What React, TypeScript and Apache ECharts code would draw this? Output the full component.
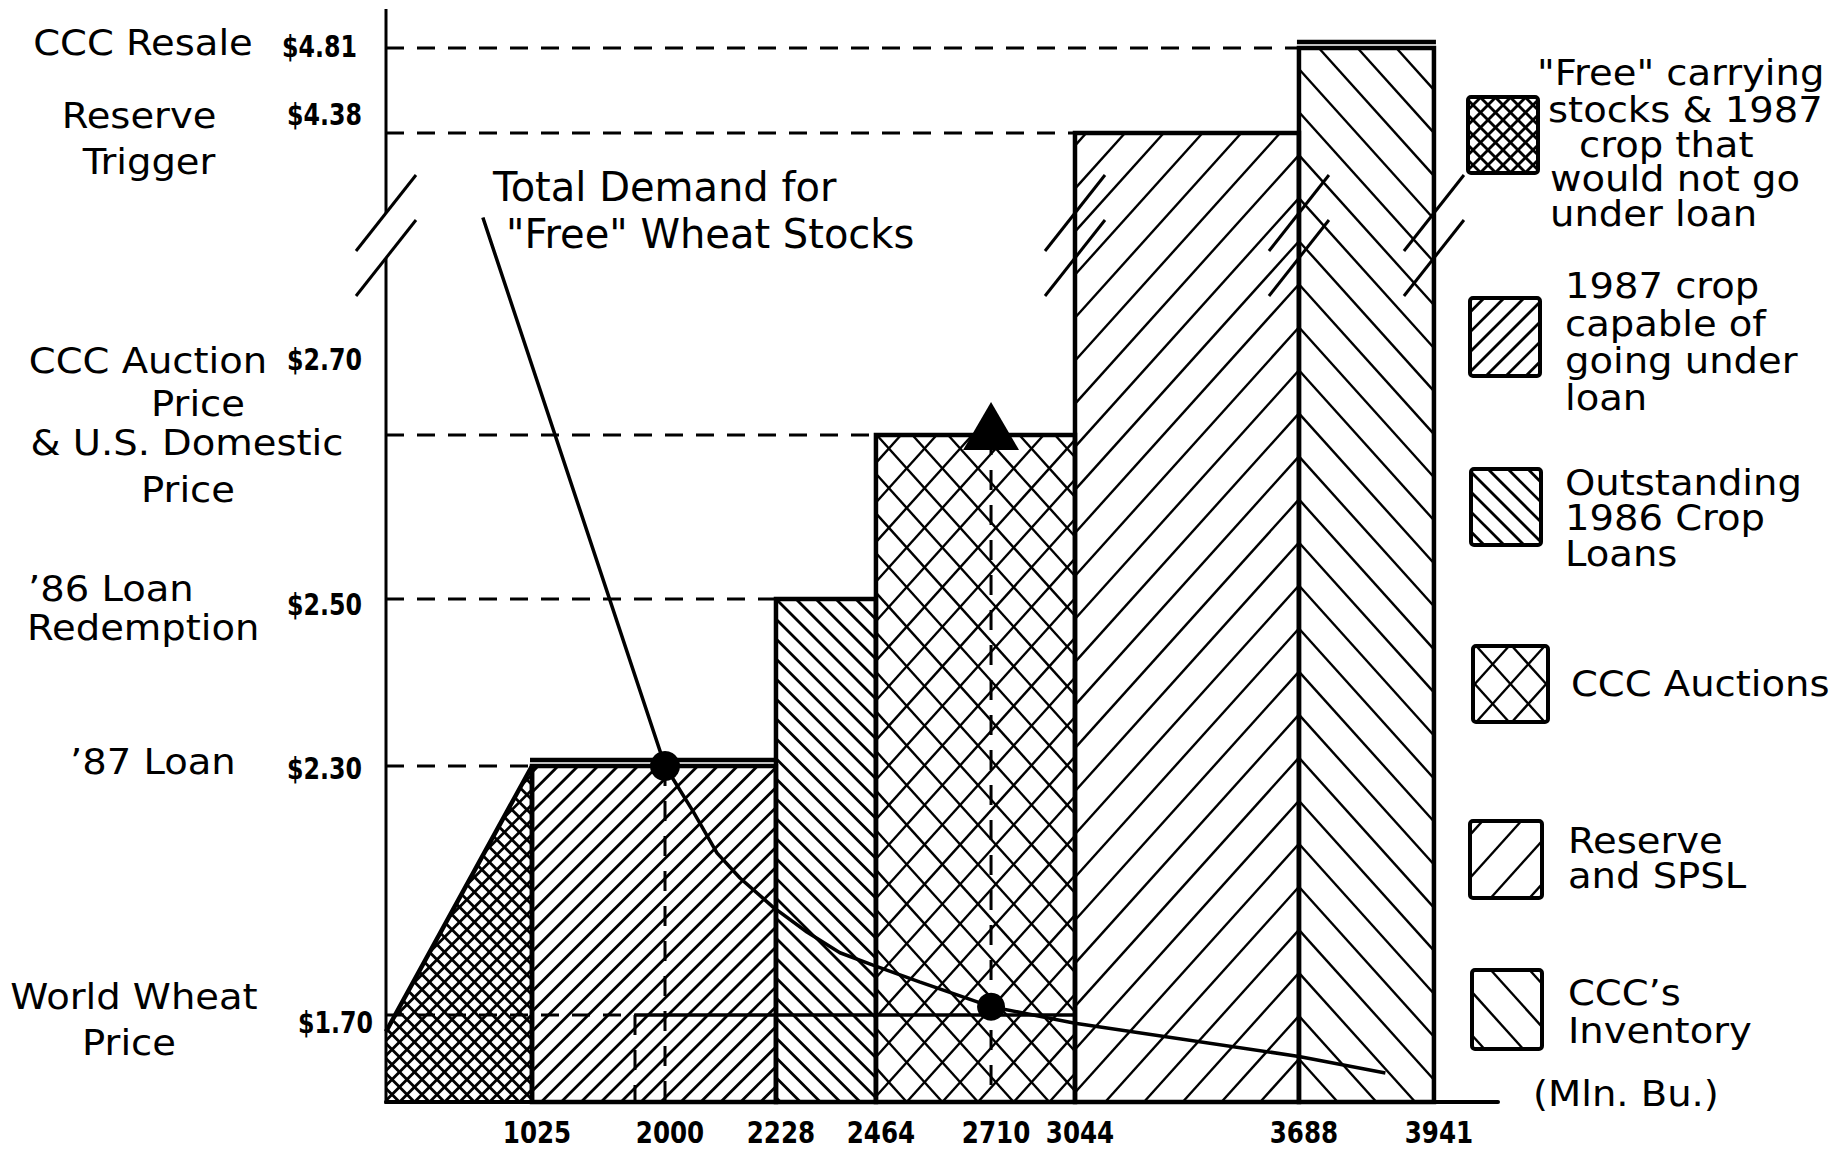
import React, { useEffect, useRef } from 'react';
import * as echarts from 'echarts';

// ---------------- data ----------------
const qtyTicks = [1025, 2000, 2228, 2464, 2710, 3044, 3688, 3941]; // Mln. Bu.
const qtyTickLabels = ['1025', '2000', '2228', '2464', '2710', '3044', '3688', '3941'];

const priceLevels = [4.81, 4.38, 2.7, 2.5, 2.3, 1.7];
const priceLabels = ['$4.81', '$4.38', '$2.70', '$2.50', '$2.30', '$1.70'];
const priceNames = [
  ['CCC Resale'],
  ['Reserve', 'Trigger'],
  ['CCC Auction', 'Price', '& U.S. Domestic', 'Price'],
  ['’86 Loan', 'Redemption'],
  ['’87 Loan'],
  ['World Wheat', 'Price'],
];
const priceLineEndQty = [3688, 3044, 2464, 2228, 1025, 1780];

const blockFromQty = [1025, 2228, 2464, 3044, 3688];
const blockToQty = [2228, 2464, 3044, 3688, 3941];
const blockPrice = [2.3, 2.5, 2.7, 4.38, 4.81];
const blockKind = ['capable', 'outstanding86', 'auctions', 'reserve', 'inventory'];

const freeStockQty = [0, 1025];
const freeStockPrice = [1.66, 2.3];

const worldLineQty = [1780, 3044];
const worldLinePrice = 1.7;

const dropQty = [1780, 2000, 2710];
const dropPrice = [1.7, 2.3, 2.7];

const demandQty = [680, 2000, 2016, 2058, 2107, 2154, 2222, 2301, 2379, 2457, 2557, 2710, 3044, 3688, 3850];
const demandPrice = [3.91, 2.3, 2.27, 2.19, 2.09, 2.03, 1.96, 1.9, 1.85, 1.82, 1.78, 1.72, 1.68, 1.6, 1.56];

const dotQty = [2000, 2710];
const dotPrice = [2.3, 1.72];
const auctionMarkQty = [2710];
const auctionMarkPrice = [2.7];

const breakEdgeQty = [0, 3044, 3688, 3941];

const legendKinds = ['free', 'capable', 'outstanding86', 'auctions', 'reserve', 'inventory'];
const legendTexts = [
  ['"Free" carrying', 'stocks & 1987', 'crop that', 'would not go', 'under loan'],
  ['1987 crop', 'capable of', 'going under', 'loan'],
  ['Outstanding', '1986 Crop', 'Loans'],
  ['CCC Auctions'],
  ['Reserve', 'and SPSL'],
  ['CCC’s', 'Inventory'],
];
const demandLabel = ['Total Demand for', '"Free" Wheat Stocks'];
const unitsLabel = '(Mln. Bu.)';

// ---------------- layout (schematic, non-proportional axes of the drawing) ----------------
const GRID = { left: 386, top: 9, width: 1112, height: 1093 };
const Q_KNOTS = [0, 1025, 2000, 2228, 2464, 2710, 3044, 3688, 3941, 4060];
const Q_POS = [0, 0.1313, 0.2509, 0.3507, 0.4406, 0.5441, 0.6196, 0.821, 0.9424, 1];
const P_KNOTS = [1.49, 1.7, 2.3, 2.5, 2.7, 4.38, 4.81, 5.0];
const P_POS = [0, 0.0796, 0.3074, 0.4602, 0.6102, 0.8865, 0.9643, 1];
const BREAK_POS = [0.7722, 0.8134];

const PRICE_LABEL_RIGHT = [357, 362, 362, 362, 362, 373];
const PRICE_LABEL_DY = [-2, -19, -76, 5, 2, 7];
const NAME_LAYOUT: [number, number, string][][] = [
  [[143, -5, 'center']],
  [[139, -17, 'center'], [149, 29, 'center']],
  [[148, -74, 'center'], [198, -31, 'center'], [187, 8, 'center'], [188, 55, 'center']],
  [[28, -10, 'left'], [27, 29, 'left']],
  [[70, -4, 'left']],
  [[134, -18, 'center'], [129, 28, 'center']],
];
const BLOCK_DOUBLE_TOP = [true, false, false, false, true];
const DOT_SIZE = [30, 28];

const LEGEND_BOX = [
  [1468, 97, 70, 76],
  [1470, 298, 70, 78],
  [1471, 469, 70, 76],
  [1473, 646, 75, 76],
  [1470, 821, 72, 77],
  [1472, 970, 70, 79],
];
const LEGEND_TEXT_POS = [
  [[1537, 73], [1548, 110], [1579, 145], [1550, 179], [1550, 214]],
  [[1565, 286], [1565, 324], [1565, 361], [1565, 398]],
  [[1565, 483], [1565, 518], [1565, 554]],
  [[1571, 684]],
  [[1568, 841], [1568, 876]],
  [[1568, 993], [1568, 1031]],
];
const UNITS_POS = [1533, 1094];
const DEMAND_LABEL_POS = [[493, 187], [506, 234]];

type Pat = { angles: number[]; s: number; lw: number };
const PATTERN: Record<string, Pat> = {
  free: { angles: [45, -45], s: 10.6, lw: 2.8 },
  capable: { angles: [45], s: 14.1, lw: 2.8 },
  outstanding86: { angles: [-45], s: 14.1, lw: 2.8 },
  auctions: { angles: [48, -48], s: 26.5, lw: 2.4 },
  reserve: { angles: [48], s: 28.8, lw: 2.4 },
  inventory: { angles: [-48], s: 28.8, lw: 2.4 },
};

const BLACK = '#000';
const FONT = "'DejaVu Sans'";

// ---------------- helpers ----------------
function interp(v: number, xs: number[], ys: number[]) {
  for (let i = 1; i < xs.length; i++) {
    if (v <= xs[i] || i === xs.length - 1) {
      return ys[i - 1] + ((v - xs[i - 1]) * (ys[i] - ys[i - 1])) / (xs[i] - xs[i - 1]);
    }
  }
  return ys[ys.length - 1];
}
const sx = (q: number) => interp(q, Q_KNOTS, Q_POS);
const sy = (p: number) => interp(p, P_KNOTS, P_POS);

function hatch(poly: number[][], pat: Pat, anchor: number[], phase = 0) {
  const segs: number[][] = [];
  for (const deg of pat.angles) {
    const t = (deg * Math.PI) / 180;
    const d = [Math.cos(t), -Math.sin(t)];
    const n = [Math.sin(t), Math.cos(t)];
    const a0 = n[0] * anchor[0] + n[1] * anchor[1];
    let mn = Infinity;
    let mx = -Infinity;
    for (const v of poly) {
      const c = n[0] * v[0] + n[1] * v[1] - a0;
      mn = Math.min(mn, c);
      mx = Math.max(mx, c);
    }
    for (let k = Math.ceil(mn / pat.s - phase); k <= Math.floor(mx / pat.s - phase); k++) {
      const c = a0 + (k + phase) * pat.s;
      const pts: number[][] = [];
      for (let i = 0; i < poly.length; i++) {
        const A = poly[i];
        const B = poly[(i + 1) % poly.length];
        const fa = n[0] * A[0] + n[1] * A[1] - c;
        const fb = n[0] * B[0] + n[1] * B[1] - c;
        if ((fa <= 0 && fb > 0) || (fa > 0 && fb <= 0)) {
          const r = fa / (fa - fb);
          pts.push([A[0] + (B[0] - A[0]) * r, A[1] + (B[1] - A[1]) * r]);
        }
      }
      if (pts.length >= 2) {
        pts.sort((p, q) => d[0] * p[0] + d[1] * p[1] - (d[0] * q[0] + d[1] * q[1]));
        const p1 = pts[0];
        const p2 = pts[pts.length - 1];
        if (Math.hypot(p2[0] - p1[0], p2[1] - p1[1]) > 0.8) segs.push([p1[0], p1[1], p2[0], p2[1]]);
      }
    }
  }
  return segs;
}

function hatchEls(poly: number[][], kind: string, anchor: number[], phase = 0) {
  const pat = PATTERN[kind];
  return hatch(poly, pat, anchor, phase).map(([x1, y1, x2, y2]) => ({
    type: 'line',
    silent: true,
    shape: { x1, y1, x2, y2 },
    style: { stroke: BLACK, lineWidth: pat.lw },
  }));
}

function textEl(text: string, x: number, y: number, align: string, font: string, scaleX: number) {
  return {
    type: 'text',
    x,
    y,
    scaleX,
    silent: true,
    style: {
      text,
      x: 0,
      y: 0,
      fill: BLACK,
      font,
      align,
      textAlign: align,
      verticalAlign: 'middle',
      textVerticalAlign: 'middle',
    },
  };
}

const LABEL_FONT = `normal 35px ${FONT}`;
const TICK_FONT = `bold 30px ${FONT}`;
const DEMAND_FONT = `normal 40px ${FONT}`;

function buildOption() {
  const graphicEls: any[] = [];
  LEGEND_BOX.forEach(([x, y, w, h], i) => {
    const poly = [[x, y], [x + w, y], [x + w, y + h], [x, y + h]];
    const pat = PATTERN[legendKinds[i]];
    const phase = pat.angles.length === 1 && pat.s > 20 ? 0.5 : 0;
    graphicEls.push(...hatchEls(poly, legendKinds[i], [x + w / 2, y + h / 2], phase));
    graphicEls.push({
      type: 'rect',
      silent: true,
      shape: { x, y, width: w, height: h, r: 3 },
      style: { fill: 'none', stroke: BLACK, lineWidth: 4 },
    });
    legendTexts[i].forEach((t, j) => {
      const [tx, ty] = LEGEND_TEXT_POS[i][j];
      graphicEls.push(textEl(t, tx, ty, 'left', LABEL_FONT, 1.1));
    });
  });
  graphicEls.push(textEl(unitsLabel, UNITS_POS[0], UNITS_POS[1], 'left', LABEL_FONT, 1.1));
  demandLabel.forEach((t, j) => {
    graphicEls.push(textEl(t, DEMAND_LABEL_POS[j][0], DEMAND_LABEL_POS[j][1], 'left', DEMAND_FONT, 1.0));
  });

  const series: any[] = [
    // free carrying stocks wedge (supply up to 1025)
    {
      type: 'custom',
      silent: true,
      clip: false,
      z: 1,
      data: [[sx(freeStockQty[0]), sx(freeStockQty[1]), sy(freeStockPrice[0]), sy(freeStockPrice[1])]],
      renderItem: (params: any, api: any) => {
        const x0 = api.value(0), x1 = api.value(1), y0 = api.value(2), y1 = api.value(3);
        const b0 = api.coord([x0, 0]);
        const t0 = api.coord([x0, y0]);
        const t1 = api.coord([x1, y1]);
        const b1 = api.coord([x1, 0]);
        const poly = [b0, t0, t1, b1];
        const anchor = api.coord([sx(blockFromQty[4]), 0]);
        const children: any[] = hatchEls(poly, 'free', anchor);
        children.push({
          type: 'polyline',
          shape: { points: [t0, t1, b1] },
          style: { fill: 'none', stroke: BLACK, lineWidth: 4.5 },
        });
        return { type: 'group', children };
      },
    },
    // stock blocks
    {
      type: 'custom',
      silent: true,
      clip: false,
      z: 1,
      data: blockFromQty.map((q, i) => [sx(q), sx(blockToQty[i]), sy(blockPrice[i]), i]),
      renderItem: (params: any, api: any) => {
        const i = params.dataIndex;
        const tl = api.coord([api.value(0), api.value(2)]);
        const br = api.coord([api.value(1), 0]);
        const poly = [[tl[0], br[1]], tl, [br[0], tl[1]], br];
        const anchor = api.coord([sx(blockFromQty[4]), 0]);
        const children: any[] = hatchEls(poly, blockKind[i], anchor);
        children.push({
          type: 'polygon',
          shape: { points: poly },
          style: { fill: 'none', stroke: BLACK, lineWidth: 4.5 },
        });
        if (BLOCK_DOUBLE_TOP[i]) {
          children.push({
            type: 'line',
            shape: { x1: tl[0] - 2, y1: tl[1] - 6, x2: br[0] + 2, y2: tl[1] - 6 },
            style: { stroke: BLACK, lineWidth: 4.5 },
          });
        }
        return { type: 'group', children };
      },
    },
    // dashed price reference lines
    {
      type: 'custom',
      silent: true,
      clip: false,
      z: 3,
      data: priceLevels.map((p, i) => [sx(0), sx(priceLineEndQty[i]), sy(p)]),
      renderItem: (params: any, api: any) => {
        const a = api.coord([api.value(0), api.value(2)]);
        const b = api.coord([api.value(1), api.value(2)]);
        return {
          type: 'line',
          shape: { x1: a[0], y1: a[1], x2: b[0], y2: b[1] },
          style: { stroke: BLACK, lineWidth: 3, lineDash: [18, 13] },
        };
      },
    },
    // world price line
    {
      type: 'custom',
      silent: true,
      clip: false,
      z: 3,
      data: [[sx(worldLineQty[0]), sx(worldLineQty[1]), sy(worldLinePrice)]],
      renderItem: (params: any, api: any) => {
        const a = api.coord([api.value(0), api.value(2)]);
        const b = api.coord([api.value(1), api.value(2)]);
        return {
          type: 'line',
          shape: { x1: a[0], y1: a[1], x2: b[0], y2: b[1] },
          style: { stroke: BLACK, lineWidth: 3.5 },
        };
      },
    },
    // vertical dashed drop lines
    {
      type: 'custom',
      silent: true,
      clip: false,
      z: 3,
      data: dropQty.map((q, i) => [sx(q), sy(dropPrice[i])]),
      renderItem: (params: any, api: any) => {
        const a = api.coord([api.value(0), api.value(1)]);
        const b = api.coord([api.value(0), 0]);
        return {
          type: 'line',
          shape: { x1: a[0], y1: a[1], x2: b[0], y2: b[1] },
          style: { stroke: BLACK, lineWidth: 3, lineDash: [20, 15] },
        };
      },
    },
    // y axis with break
    {
      type: 'custom',
      silent: true,
      clip: false,
      z: 4,
      data: [[0]],
      renderItem: (params: any, api: any) => {
        const top = api.coord([0, 1]);
        const lo = api.coord([0, BREAK_POS[0]]);
        const hi = api.coord([0, BREAK_POS[1]]);
        const bot = api.coord([0, 0]);
        return {
          type: 'group',
          children: [
            { type: 'line', shape: { x1: top[0], y1: top[1], x2: hi[0], y2: hi[1] }, style: { stroke: BLACK, lineWidth: 3 } },
            { type: 'line', shape: { x1: lo[0], y1: lo[1], x2: bot[0], y2: bot[1] + 2 }, style: { stroke: BLACK, lineWidth: 3 } },
          ],
        };
      },
    },
    // break slashes
    {
      type: 'custom',
      silent: true,
      clip: false,
      z: 4,
      data: breakEdgeQty.map((q) => [sx(q), 0]),
      renderItem: (params: any, api: any) => {
        const children = BREAK_POS.map((bp) => {
          const c = api.coord([api.value(0), bp]);
          return {
            type: 'line',
            shape: { x1: c[0] - 30, y1: c[1] + 38, x2: c[0] + 30, y2: c[1] - 38 },
            style: { stroke: BLACK, lineWidth: 3 },
          };
        });
        return { type: 'group', children };
      },
    },
    // total demand curve
    {
      type: 'line',
      silent: true,
      z: 5,
      symbol: 'none',
      data: demandQty.map((q, i) => [sx(q), sy(demandPrice[i])]),
      lineStyle: { color: BLACK, width: 3.5 },
    },
    // equilibrium dots
    {
      type: 'scatter',
      silent: true,
      z: 6,
      symbol: 'circle',
      data: dotQty.map((q, i) => ({ value: [sx(q), sy(dotPrice[i])], symbolSize: DOT_SIZE[i] })),
      itemStyle: { color: BLACK, opacity: 1 },
    },
    // auction price marker
    {
      type: 'scatter',
      silent: true,
      z: 6,
      symbol: 'triangle',
      symbolSize: [56, 48],
      symbolOffset: [0, -9],
      data: auctionMarkQty.map((q, i) => [sx(q), sy(auctionMarkPrice[i])]),
      itemStyle: { color: BLACK, opacity: 1 },
    },
    // quantity tick labels
    {
      type: 'custom',
      silent: true,
      clip: false,
      z: 7,
      data: qtyTicks.map((q) => [sx(q), 0]),
      renderItem: (params: any, api: any) => {
        const p = api.coord([api.value(0), 0]);
        return textEl(qtyTickLabels[params.dataIndex], p[0] + 5, p[1] + 31, 'center', TICK_FONT, 0.82);
      },
    },
    // price tick labels
    {
      type: 'custom',
      silent: true,
      clip: false,
      z: 7,
      data: priceLevels.map((p) => [0, sy(p)]),
      renderItem: (params: any, api: any) => {
        const i = params.dataIndex;
        const p = api.coord([0, api.value(1)]);
        return textEl(priceLabels[i], PRICE_LABEL_RIGHT[i], p[1] + PRICE_LABEL_DY[i], 'right', TICK_FONT, 0.79);
      },
    },
    // price level names
    {
      type: 'custom',
      silent: true,
      clip: false,
      z: 7,
      data: priceLevels.map((p) => [0, sy(p)]),
      renderItem: (params: any, api: any) => {
        const i = params.dataIndex;
        const p = api.coord([0, api.value(1)]);
        return {
          type: 'group',
          children: priceNames[i].map((t, j) => {
            const [x, dy, align] = NAME_LAYOUT[i][j];
            return textEl(t, x, p[1] + dy, align, LABEL_FONT, 1.1);
          }),
        };
      },
    },
  ];

  return {
    animation: false,
    backgroundColor: '#fff',
    grid: { left: GRID.left, top: GRID.top, width: GRID.width, height: GRID.height },
    xAxis: {
      type: 'value',
      min: 0,
      max: 1,
      axisLine: { show: true, onZero: false, lineStyle: { color: BLACK, width: 4 } },
      axisTick: { show: false },
      axisLabel: { show: false },
      splitLine: { show: false },
    },
    yAxis: {
      type: 'value',
      min: 0,
      max: 1,
      axisLine: { show: false },
      axisTick: { show: false },
      axisLabel: { show: false },
      splitLine: { show: false },
    },
    graphic: { elements: graphicEls },
    series,
  };
}

export default function App() {
  const ref = useRef<HTMLDivElement>(null);
  useEffect(() => {
    const chart = echarts.init(ref.current as HTMLDivElement, undefined, { renderer: 'svg' });
    chart.setOption(buildOption() as any);
    return () => chart.dispose();
  }, []);
  return (
    <div
      ref={ref}
      style={{ position: 'absolute', left: 0, top: 0, width: '1848px', height: '1150px', background: '#fff' }}
    />
  );
}
